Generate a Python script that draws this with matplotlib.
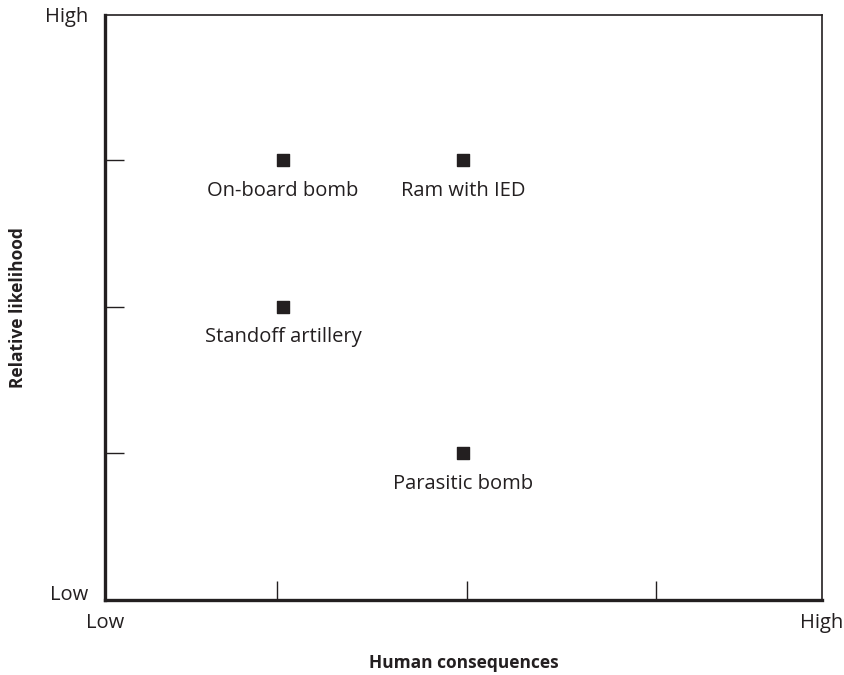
import matplotlib.pyplot as plt

plt.rcParams["font.family"] = ["Open Sans", "DejaVu Sans"]

# threat scenarios: (human consequences, relative likelihood)
threats = ["On-board bomb", "Ram with IED", "Standoff artillery", "Parasitic bomb"]
consequences = [1.03, 1.98, 1.03, 1.98]
likelihood = [3, 3, 2, 1]

x_ends = ["Low", "High"]
y_ends = ["Low", "High"]

ink = "#231f20"

fig = plt.figure(figsize=(8.45, 6.75), dpi=100)
ax = fig.add_axes([0.1243, 0.1111, 0.8485, 0.8667])

ax.scatter(consequences, likelihood, marker="s", s=78, color=ink, zorder=3)
for name, x, y in zip(threats, consequences, likelihood):
    ax.annotate(name, (x, y), xytext=(0, -22), textcoords="offset points",
                ha="center", va="center", fontsize=14.5, color=ink)

# end labels as major ticks without marks, inner ticks as minor marks
ax.set_xticks([0.09, 3.876])
ax.set_xticklabels(x_ends)
ax.set_yticks([0.05, 3.99])
ax.set_yticklabels(y_ends)
ax.set_xticks([1, 2, 3], minor=True)
ax.set_yticks([1, 2, 3], minor=True)
ax.set_xlim(0.09, 3.876)
ax.set_ylim(0, 3.99)
ax.tick_params(which="major", length=0, labelsize=14.5, colors=ink)
ax.tick_params(axis="x", which="major", pad=9)
ax.tick_params(axis="y", which="major", pad=12)
ax.tick_params(which="minor", direction="in", length=14, width=1.0, color=ink)

for side in ["left", "bottom"]:
    ax.spines[side].set_linewidth(2.4)
    ax.spines[side].set_color(ink)
for side in ["top", "right"]:
    ax.spines[side].set_linewidth(1.2)
    ax.spines[side].set_color(ink)

ax.set_xlabel("Human consequences", fontsize=12.5, fontweight="bold", color=ink)
ax.set_ylabel("Relative likelihood", fontsize=12.5, fontweight="bold", color=ink)
ax.xaxis.set_label_coords(0.5, -0.093)
ax.yaxis.set_label_coords(-0.109, 0.5)

fig.savefig("out.png", dpi=100)
